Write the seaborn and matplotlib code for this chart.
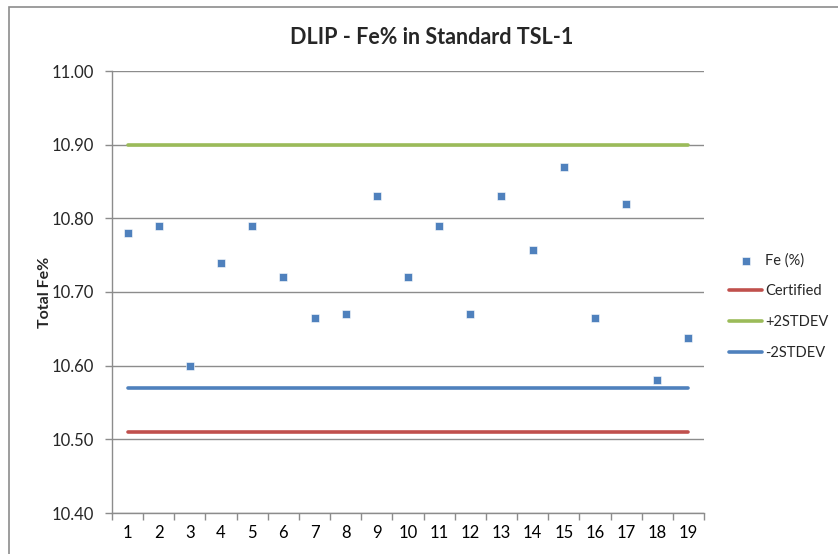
import seaborn as sns
import matplotlib.pyplot as plt
import pandas as pd
from matplotlib.patches import Rectangle

samples = [str(i) for i in range(1, 20)]
fe = [10.78, 10.79, 10.60, 10.74, 10.79, 10.72, 10.665, 10.67, 10.83, 10.72,
      10.79, 10.67, 10.83, 10.757, 10.87, 10.665, 10.82, 10.58, 10.637]
certified = 10.51
plus_2sd = 10.90
minus_2sd = 10.57

df = pd.DataFrame({'sample': samples, 'Fe (%)': fe})
df['Certified'] = certified
df['+2STDEV'] = plus_2sd
df['-2STDEV'] = minus_2sd

sns.set_style("white")
plt.rcParams['font.family'] = ['Lato', 'DejaVu Sans']

fig = plt.figure(figsize=(8.38, 5.54), dpi=100)
ax = fig.add_axes([112/838, 41/554, 592/838, 442/554])

grid_col = '#8c8c8c'
lines = {'Certified': '#C0504D', '+2STDEV': '#9BBB59', '-2STDEV': '#4F81BD'}
for name, col in lines.items():
    sns.lineplot(data=df, x='sample', y=name, color=col, lw=2.6, ax=ax,
                 label=name, solid_capstyle='round', zorder=2)
sns.scatterplot(data=df, x='sample', y='Fe (%)', marker='s', s=34, color='#4F81BD',
                edgecolor='white', linewidth=0.4, ax=ax, label='Fe (%)', zorder=3)

ax.set_xlim(-0.5, len(samples) - 0.5)
ax.set_ylim(10.40, 11.00)
ax.set_yticks([10.4 + 0.1 * i for i in range(7)])
ax.yaxis.set_major_formatter(plt.FormatStrFormatter('%.2f'))
ax.set_xticks(range(len(samples)))
ax.set_xticklabels(samples)
ax.set_xticks([i - 0.5 for i in range(len(samples) + 1)], minor=True)
ax.tick_params(axis='x', which='major', length=0, pad=9, labelsize=12, colors='black')
ax.tick_params(axis='x', which='minor', length=5, direction='out', color=grid_col, width=1)
ax.tick_params(axis='y', length=5, direction='out', color=grid_col, width=1,
               labelsize=12, pad=8)
ax.xaxis.set_tick_params(bottom=True, which='both')
ax.yaxis.set_tick_params(left=True)
ax.grid(axis='y', color=grid_col, lw=1)
ax.set_axisbelow(True)
for s in ['top', 'right']:
    ax.spines[s].set_visible(False)
for s in ['left', 'bottom']:
    ax.spines[s].set_color(grid_col)
    ax.spines[s].set_linewidth(1)
ax.set_xlabel('')
ax.set_ylabel('Total Fe%', fontsize=11.5, fontweight='bold', labelpad=0)

handles, labels = ax.get_legend_handles_labels()
order = [labels.index(l) for l in ['Fe (%)', 'Certified', '+2STDEV', '-2STDEV']]
ax.legend([handles[i] for i in order], [labels[i] for i in order],
          loc='upper left', bbox_to_anchor=(716/838, 1 - 240/554),
          bbox_transform=fig.transFigure, frameon=False, fontsize=10.5,
          handlelength=2.25, handletextpad=0.2, labelspacing=1.15)

fig.text(432/838, 1 - 37/554, 'DLIP - Fe% in Standard TSL-1', ha='center', va='center',
         fontsize=15.5, fontweight='bold')
fig.patches.append(Rectangle((9/838, -0.1), 1.2, 1 - 7/554 + 0.1, transform=fig.transFigure,
                             fill=False, edgecolor='#8c8c8c', lw=1.2))

plt.savefig('out.png', dpi=100)
